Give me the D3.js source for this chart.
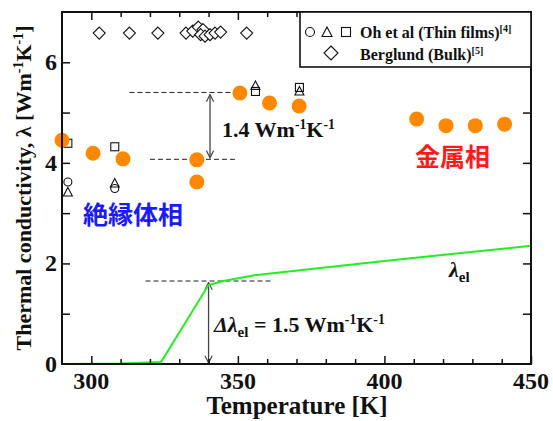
<!DOCTYPE html>
<meta charset="utf-8">
<style>
  body { margin: 0; background: #fff; }
  text { font-family: "Liberation Serif", "Times New Roman", serif; font-weight: bold; }
</style>
<script src="https://d3js.org/d3.v7.min.js"></script>
<body>
<script>
// measured data (Temperature [K], lambda [W/mK])
var oursT = [290, 300.6, 310.8, 336, 336, 350.7, 360.8, 370.9, 411, 421, 431, 441];
var oursL = [4.45, 4.19, 4.08, 4.06, 3.62, 5.39, 5.19, 5.13, 4.87, 4.74, 4.74, 4.77];

var ohCircT = [292, 308];
var ohCircL = [3.62, 3.49];
var ohTriT = [292, 308, 356, 371];
var ohTriL = [3.41, 3.59, 5.53, 5.42];
var ohSqT = [292, 308, 356, 371];
var ohSqL = [4.39, 4.32, 5.42, 5.5];

var bergT = [302.7, 313, 322.7, 332.3, 334.6, 336.5, 338.1, 337.3, 338.8, 340.5, 342.2, 344.1, 353];
var bergL = [6.58, 6.58, 6.58, 6.58, 6.62, 6.70, 6.65, 6.55, 6.52, 6.55, 6.58, 6.6, 6.58];

var elT = [290, 310, 323.8, 340, 345, 356.4, 400, 450];
var elL = [0, 0.01, 0.04, 1.57, 1.65, 1.77, 2.05, 2.35];

var xTicks = [300, 350, 400, 450];
var yTicks = [0, 2, 4, 6];

var W = 553, H = 421;
var svg = d3.select("body").append("svg").attr("width", W).attr("height", H);

var x = d3.scaleLinear().domain([290, 450]).range([62, 531]);
var y = d3.scaleLinear().domain([0, 7]).range([364, 12]);

// dashed guide lines
function dash(t1, t2, v) {
  svg.append("line").attr("x1", x(t1)).attr("x2", x(t2)).attr("y1", y(v)).attr("y2", y(v))
    .style("stroke", "#222").style("stroke-width", 1).style("stroke-dasharray", "5,3");
}
dash(313, 348, 5.4);
dash(320, 349, 4.07);
dash(318.5, 362, 1.65);

// arrows
var defs = svg.append("defs");
defs.append("marker").attr("id", "ah").attr("viewBox", "0 0 10 10")
  .attr("refX", 9).attr("refY", 5).attr("markerWidth", 9).attr("markerHeight", 9)
  .attr("orient", "auto-start-reverse").attr("markerUnits", "userSpaceOnUse")
  .append("path").attr("d", "M1,1 L9,5 L1,9").style("fill", "none").style("stroke", "#444").style("stroke-width", 1.3);

function arrow(t, v1, v2) {
  svg.append("line").attr("x1", x(t)).attr("x2", x(t)).attr("y1", y(v1)).attr("y2", y(v2))
    .style("stroke", "#444").style("stroke-width", 1.3)
    .attr("marker-start", "url(#ah)").attr("marker-end", "url(#ah)");
}
arrow(340.5, 5.36, 4.1);
arrow(340, 1.62, 0.02);

// electronic contribution
var line = d3.line().x(function(d) { return x(d[0]); }).y(function(d) { return y(d[1]); });
svg.append("path").datum(d3.zip(elT, elL)).attr("d", line)
  .style("fill", "none").style("stroke", "#22ee22").style("stroke-width", 2);

// Berglund diamonds
svg.selectAll(".berg").data(d3.zip(bergT, bergL)).enter().append("path")
  .attr("class", "berg")
  .attr("transform", function(d) { return "translate(" + x(d[0]) + "," + y(d[1]) + ")"; })
  .attr("d", "M0,-6 L6,0 L0,6 L-6,0 Z")
  .style("fill", "#fff").style("stroke", "#111").style("stroke-width", 1.1);

// Oh et al
svg.selectAll(".ohc").data(d3.zip(ohCircT, ohCircL)).enter().append("circle")
  .attr("cx", function(d) { return x(d[0]); }).attr("cy", function(d) { return y(d[1]); })
  .attr("r", 4).style("fill", "none").style("stroke", "#111").style("stroke-width", 1.1);
svg.selectAll(".ohs").data(d3.zip(ohSqT, ohSqL)).enter().append("rect")
  .attr("x", function(d) { return x(d[0]) - 4; }).attr("y", function(d) { return y(d[1]) - 4; })
  .attr("width", 8).attr("height", 8).style("fill", "none").style("stroke", "#111").style("stroke-width", 1.1);
svg.selectAll(".oht").data(d3.zip(ohTriT, ohTriL)).enter().append("path")
  .attr("transform", function(d) { return "translate(" + x(d[0]) + "," + y(d[1]) + ")"; })
  .attr("d", "M0,-5 L4.5,3.5 L-4.5,3.5 Z")
  .style("fill", "none").style("stroke", "#111").style("stroke-width", 1.1);

// this work
svg.selectAll(".ours").data(d3.zip(oursT, oursL)).enter().append("circle")
  .attr("cx", function(d) { return x(d[0]); }).attr("cy", function(d) { return y(d[1]); })
  .attr("r", 7.5).style("fill", "#ff8800");

// frame and ticks
svg.append("rect").attr("x", 62).attr("y", 12).attr("width", 469).attr("height", 352)
  .style("fill", "none").style("stroke", "#111").style("stroke-width", 2);

var minorX = d3.range(300, 450, 10);
var minorY = d3.range(1, 7, 1);
function tickLen(v, majors, big, small) { return majors.indexOf(v) >= 0 ? big : small; }
svg.append("g").attr("transform", "translate(0,364)")
  .call(d3.axisBottom(x).tickValues(minorX.concat([450])).tickSizeInner(-1).tickSizeOuter(0).tickFormat(""))
  .call(function(g) {
    g.select(".domain").remove();
    g.selectAll(".tick line").attr("y2", function(d) { return -tickLen(d, xTicks, 8, 5); })
      .style("stroke", "#111").style("stroke-width", 1.5);
  });
svg.append("g").attr("transform", "translate(0,12)")
  .call(d3.axisTop(x).tickValues(minorX).tickSizeOuter(0).tickFormat(""))
  .call(function(g) {
    g.select(".domain").remove();
    g.selectAll(".tick line").attr("y2", function(d) { return tickLen(d, xTicks, 8, 5); })
      .style("stroke", "#111").style("stroke-width", 1.5);
  });
svg.append("g").attr("transform", "translate(62,0)")
  .call(d3.axisLeft(y).tickValues(minorY).tickSizeOuter(0).tickFormat(""))
  .call(function(g) {
    g.select(".domain").remove();
    g.selectAll(".tick line").attr("x2", 8).style("stroke", "#111").style("stroke-width", 1.5);
  });
svg.append("g").attr("transform", "translate(531,0)")
  .call(d3.axisRight(y).tickValues(minorY).tickSizeOuter(0).tickFormat(""))
  .call(function(g) {
    g.select(".domain").remove();
    g.selectAll(".tick line").attr("x2", -8).style("stroke", "#111").style("stroke-width", 1.5);
  });

// tick labels
svg.selectAll(".xl").data(xTicks).enter().append("text")
  .attr("x", function(d) { return x(d); }).attr("y", 389)
  .attr("text-anchor", "middle").style("font-size", "24px").style("fill", "#111").text(function(d) { return d; });
svg.selectAll(".yl").data(yTicks).enter().append("text")
  .attr("x", 57).attr("y", function(d) { return y(d) + 8; })
  .attr("text-anchor", "end").style("font-size", "24px").style("fill", "#111").text(function(d) { return d; });

// axis titles
svg.append("text").attr("x", 297).attr("y", 414).attr("text-anchor", "middle")
  .style("font-size", "25px").style("fill", "#111").text("Temperature [K]");

var yt = svg.append("text").attr("transform", "translate(31,188) rotate(-90)").attr("text-anchor", "middle")
  .style("font-size", "22px").style("fill", "#111");
yt.append("tspan").text("Thermal conductivity, λ [Wm");
yt.append("tspan").attr("dy", -8).style("font-size", "14px").text("-1");
yt.append("tspan").attr("dy", 8).text("K");
yt.append("tspan").attr("dy", -8).style("font-size", "14px").text("-1");
yt.append("tspan").attr("dy", 8).text("]");

// annotations
function unitText(t, xx, yy, size) {
  t.append("tspan").text("Wm");
  t.append("tspan").attr("dy", -size * 0.38).style("font-size", (size * 0.62) + "px").text("-1");
  t.append("tspan").attr("dy", size * 0.38).text("K");
  t.append("tspan").attr("dy", -size * 0.38).style("font-size", (size * 0.62) + "px").text("-1");
}
var a1 = svg.append("text").attr("x", 222).attr("y", 137).style("font-size", "22px").style("fill", "#111");
a1.append("tspan").text("1.4 ");
unitText(a1, 0, 0, 22);

var a2 = svg.append("text").attr("x", 214).attr("y", 332).style("font-size", "22px").style("fill", "#111");
a2.append("tspan").style("font-style", "italic").text("Δλ");
a2.append("tspan").attr("dy", 5).style("font-size", "15px").text("el");
a2.append("tspan").attr("dy", -5).text(" = 1.5 ");
unitText(a2, 0, 0, 22);

var a3 = svg.append("text").attr("x", 449).attr("y", 277).style("font-size", "22px").style("fill", "#111");
a3.append("tspan").style("font-style", "italic").text("λ");
a3.append("tspan").attr("dy", 5).style("font-size", "15px").text("el");

svg.append("text").attr("x", 415).attr("y", 166)
  .style("font-family", "'Noto Sans CJK JP', sans-serif").style("font-size", "25px").style("font-weight", "bold")
  .style("fill", "#ff1a1a").text("金属相");
svg.append("text").attr("x", 83).attr("y", 224)
  .style("font-family", "'Noto Sans CJK JP', sans-serif").style("font-size", "25px").style("font-weight", "bold")
  .style("fill", "#1a1aff").text("絶縁体相");

// legend
svg.append("rect").attr("x", 300).attr("y", 12).attr("width", 231).attr("height", 55)
  .style("fill", "#fff").style("stroke", "#111").style("stroke-width", 1.6);
svg.append("circle").attr("cx", 310).attr("cy", 32).attr("r", 4.5)
  .style("fill", "none").style("stroke", "#111").style("stroke-width", 1.1);
svg.append("path").attr("transform", "translate(327,32.5)").attr("d", "M0,-5.5 L5,4 L-5,4 Z")
  .style("fill", "none").style("stroke", "#111").style("stroke-width", 1.1);
svg.append("rect").attr("x", 341.5).attr("y", 27.5).attr("width", 9).attr("height", 9)
  .style("fill", "none").style("stroke", "#111").style("stroke-width", 1.1);
svg.append("path").attr("transform", "translate(331,53)").attr("d", "M0,-7 L7,0 L0,7 L-7,0 Z")
  .style("fill", "none").style("stroke", "#111").style("stroke-width", 1.1);

var l1 = svg.append("text").attr("x", 360).attr("y", 38).style("font-size", "16px").style("fill", "#111");
l1.append("tspan").text("Oh et al (Thin films)");
l1.append("tspan").attr("dy", -6).style("font-size", "10px").text("[4]");
var l2 = svg.append("text").attr("x", 360).attr("y", 60).style("font-size", "16px").style("fill", "#111");
l2.append("tspan").text("Berglund (Bulk)");
l2.append("tspan").attr("dy", -6).style("font-size", "10px").text("[5]");
</script>
</body>
